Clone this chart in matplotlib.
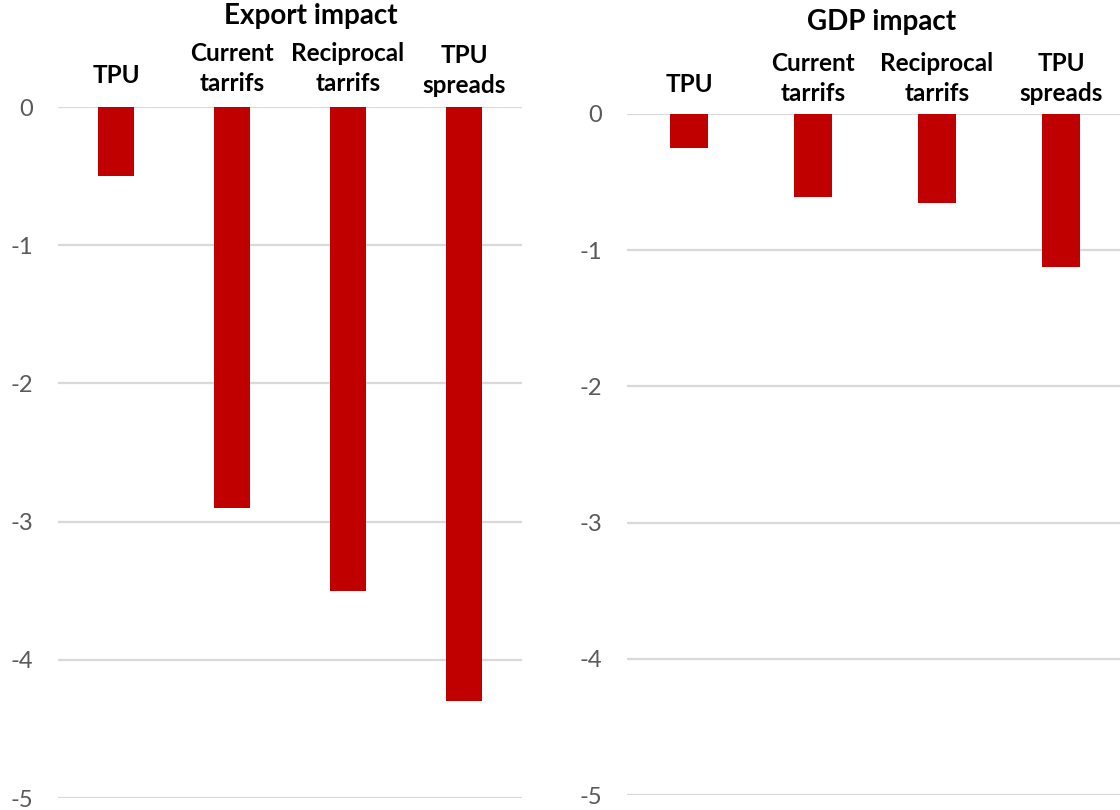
import matplotlib
matplotlib.use("Agg")
from matplotlib import pyplot as plt


# Scenario names and estimated impacts (percent).
categories = ["TPU", "Current\ntarrifs", "Reciprocal\ntarrifs", "TPU\nspreads"]
export_impact = [-0.5, -2.9, -3.5, -4.3]
gdp_impact = [-0.25, -0.61, -0.65, -1.12]
y_ticks = [0, -1, -2, -3, -4, -5]

BAR_COLOR = "#c00000"
GRID_COLOR = "#d9d9d9"
TICK_COLOR = "#595959"

plt.rcParams["font.family"] = ["Lato", "DejaVu Sans"]


def draw_panel(fig, rect, values, title, title_x, title_y, label_offsets):
    """
    Draw one bar panel with the category names written above the zero line.
    :param fig: The figure to draw on.
    :param rect: The axes rectangle in figure fractions.
    :param values: The bar heights.
    :param title: The panel title.
    :param title_x: Title centre, figure fraction.
    :param title_y: Title centre, figure fraction.
    :param label_offsets: Height in points of each label's last baseline above zero.
    :return: The axes.
    """
    ax = fig.add_axes(rect)
    x = range(len(values))
    ax.bar(x, values, width=0.31, color=BAR_COLOR, zorder=3)
    ax.set_xlim(-0.5, len(values) - 0.5)
    ax.set_ylim(-5, 0)
    ax.set_yticks(y_ticks)
    ax.set_yticklabels([str(t) for t in y_ticks])
    ax.yaxis.grid(True, color=GRID_COLOR, linewidth=1.6, zorder=0)
    ax.set_xticks([])
    ax.tick_params(axis="y", length=0, pad=18, labelsize=17, labelcolor=TICK_COLOR)
    for spine in ax.spines.values():
        spine.set_visible(False)
    # Category names sit above the zero line, centred on each bar.
    for i, (name, off) in enumerate(zip(categories, label_offsets)):
        ax.annotate(name, xy=(i, 0), xytext=(0, off), textcoords="offset points",
                    ha="center", va="baseline", fontsize=17.5, fontweight="bold",
                    linespacing=1.35, annotation_clip=False)
    fig.text(title_x, title_y, title, ha="center", va="center", fontsize=20, fontweight="bold")
    return ax


fig = plt.figure(figsize=(11.2, 8.1), dpi=100)
draw_panel(fig, [58 / 1120, 1 - 798 / 810, 464 / 1120, 691 / 810], export_impact,
           "Export impact", 311 / 1120, 1 - 16 / 810, [17, 11.5, 11.5, 10])
draw_panel(fig, [627 / 1120, 1 - 795 / 810, 496 / 1120, 681 / 810], gdp_impact,
           "GDP impact", 882 / 1120, 1 - 22 / 810, [15.5, 9.5, 9.5, 9.5])
fig.savefig("out.png", dpi=100)
plt.close(fig)
